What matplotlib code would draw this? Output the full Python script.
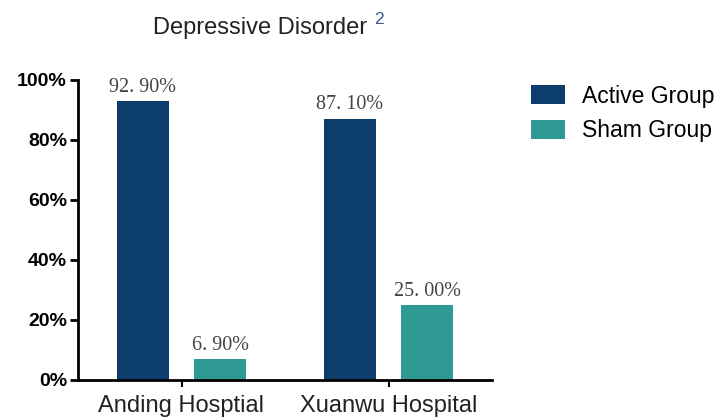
import matplotlib.pyplot as plt
import numpy as np

hospitals = ['Anding Hosptial', 'Xuanwu Hospital']
active = np.array([92.90, 87.10])
sham = np.array([6.90, 25.00])
active_lbl = ['92. 90%', '87. 10%']
sham_lbl = ['6. 90%', '25. 00%']

c_active = '#0c3d6b'
c_sham = '#2f9a93'

fig = plt.figure(figsize=(7.2, 4.18), dpi=100)
ax = fig.add_axes([78/720, 1-380/418, (492-78)/720, 300/418])

r = np.arange(len(hospitals))
w = 0.255
off = 0.186
ax.bar(r - off, active, width=w, color=c_active, label='Active Group')
ax.bar(r + off, sham, width=w, color=c_sham, label='Sham Group')

for x, v, t in zip(r - off, active, active_lbl):
    ax.text(x, v + 1.5, t, ha='center', va='bottom', fontsize=14.5,
            family='Liberation Serif', color='#444444')
for x, v, t in zip(r + off, sham, sham_lbl):
    ax.text(x, v + 1.5, t, ha='center', va='bottom', fontsize=14.5,
            family='Liberation Serif', color='#444444')

ax.set_xlim(-0.5, 1.5)
ax.set_ylim(0, 100)
ax.set_yticks([0, 20, 40, 60, 80, 100])
ax.set_yticklabels(['0%', '20%', '40%', '60%', '80%', '100%'],
                   fontsize=14, fontweight='bold', family='Liberation Sans')
ax.set_xticks(r)
ax.set_xticklabels(hospitals, fontsize=17, family='Liberation Sans', color='#222222')
ax.tick_params(axis='y', length=6, width=2, pad=2)
ax.tick_params(axis='x', length=5, width=1.5, pad=6)
for s in ['top', 'right']:
    ax.spines[s].set_visible(False)
ax.spines['left'].set_linewidth(2)
ax.spines['bottom'].set_linewidth(2)

fig.text(153/720, 1-28/418, 'Depressive Disorder', fontsize=17, family='Liberation Sans',
         color='#222222', ha='left', va='center')
fig.text(374/720, 1-19/418, '2', fontsize=12.5, family='Liberation Sans',
         color='#3b5b8f', ha='left', va='center')

leg = ax.legend(loc='upper left', bbox_to_anchor=(510/720, 1-64/418),
                bbox_transform=fig.transFigure, frameon=False,
                handlelength=1.52, handleheight=0.88, handletextpad=0.72,
                labelspacing=0.5, prop={'family': 'Liberation Sans', 'size': 16.5})

fig.savefig('out.png', dpi=100)
